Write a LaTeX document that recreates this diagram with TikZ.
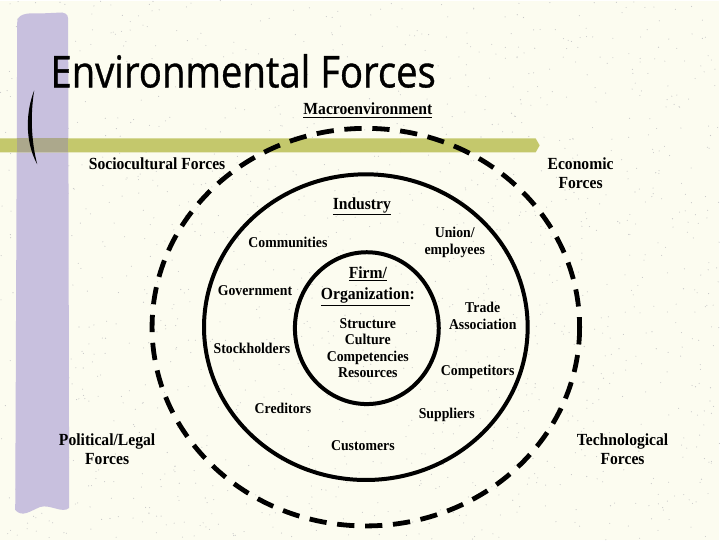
\documentclass[tikz,border=0pt]{standalone}
\usepackage{fontspec}
\setmainfont{Liberation Serif}
\newfontfamily\titlefont[FakeStretch=0.87,FakeBold=0.8]{Open Sans}
\newfontfamily\lblfont[FakeStretch=0.92]{Liberation Serif}
\definecolor{paper}{RGB}{252,252,240}
\definecolor{lilac}{RGB}{200,192,222}
\definecolor{barolive}{RGB}{196,200,108}
\definecolor{baroverlap}{RGB}{172,168,140}

\begin{document}
\begin{tikzpicture}[x=0.75pt, y=-0.75pt,
    lbl/.style={font=\lblfont\bfseries\fontsize{11.25}{12.75}\selectfont, align=center, inner sep=0pt},
    force/.style={font=\lblfont\bfseries\fontsize{12.75}{14.25}\selectfont, align=center, inner sep=0pt},
    ring/.style={line width=3pt}]
% Papier
\fill[paper] (0,0) rectangle (720,540);
\pgfmathsetseed{42}
\foreach \i in {1,...,1400}
  \fill[black!22] (720*rnd,540*rnd) circle (0.55);
% Barras
\fill[lilac] (17,22) .. controls (17,14) and (25,12) .. (40,13) -- (62,12)
  .. controls (68,13) and (68,16) .. (68,22) -- (69,508)
  .. controls (62,514) and (50,504) .. (40,507) .. controls (30,511) and (22,518) .. (15,510) -- cycle;
\fill[barolive] (0,138) -- (536,138) -- (540,145) -- (536,152) -- (0,152) -- cycle;
\fill[baroverlap] (17,138) rectangle (68,152);
\fill (34,90) .. controls (26,110) and (24,140) .. (37,164)
  .. controls (31,140) and (30,115) .. (34,90) -- cycle;
% Titulo
\node[anchor=base west, inner sep=0pt, font=\titlefont\fontsize{33}{33}\selectfont] (title) at (50,87) {Environmental Forces};
% Aneis
\draw[ring, line width=3.6pt, dash pattern=on 13pt off 8pt] (366,327) ellipse [x radius=214, y radius=199];
\draw[ring] (366,327) ellipse [x radius=162, y radius=153];
\draw[ring] (367,328) ellipse [x radius=72, y radius=76];
% Macroambiente
\node[force] (macro) at (368,110) {\underline{Macroenvironment}};
\node[force] (socio) at (157,163) {Sociocultural Forces};
\node[force] (econ) at (581,173) {Economic\\Forces};
\node[force] (polit) at (107,449) {Political/Legal\\Forces};
\node[force] (techno) at (623,449) {Technological\\Forces};
% Industria
\node[force] (industry) at (362,206) {\underline{Industry}};
\node[lbl] (comm) at (288,242) {Communities};
\node[lbl] (union) at (455,242) {Union/\\employees};
\node[lbl] (govt) at (255,290) {Government};
\node[lbl] (trade) at (483,316) {Trade\\Association};
\node[lbl] (stock) at (252,348) {Stockholders};
\node[lbl] (compet) at (478,372) {Competitors};
\node[lbl] (cred) at (283,408) {Creditors};
\node[lbl] (suppl) at (447,415) {Suppliers};
\node[lbl] (cust) at (363,446) {Customers};
% Firma
\node[force, font=\lblfont\bfseries\fontsize{12.75}{15.75}\selectfont] (firm) at (368,286) {\underline{Firm/}\\\underline{Organization}:};
\node[lbl, font=\lblfont\bfseries\fontsize{11.25}{12.5}\selectfont] (res) at (368,348) {Structure\\Culture\\Competencies\\Resources};
\end{tikzpicture}
\end{document}
